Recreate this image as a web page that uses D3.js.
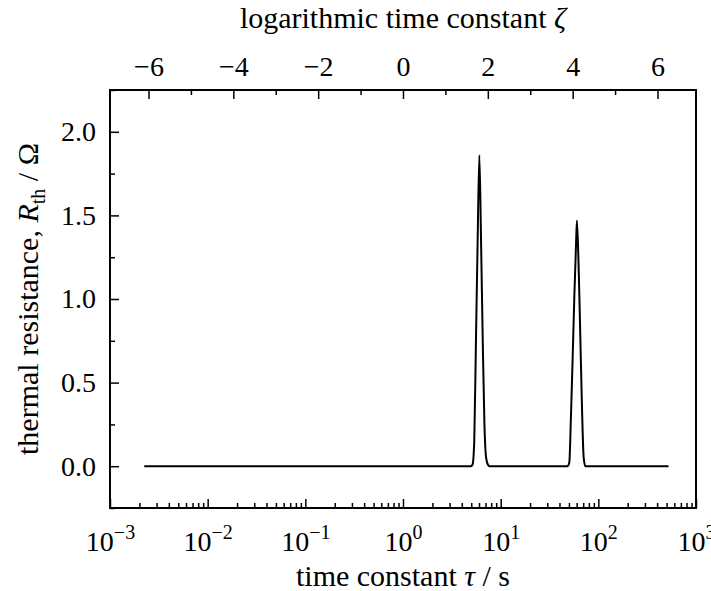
<!DOCTYPE html>
<meta charset="utf-8">
<style>
body { margin: 0; background: #fff; }
svg text { font-family: "Liberation Serif", "DejaVu Serif", "Times New Roman", serif !important; fill: #000; }
.tick text { font-size: 28px; }
.title { font-size: 30px; }
.frame { fill: none; stroke: #000; stroke-width: 2px; }
.curve { fill: none; stroke: #000; stroke-width: 2px; stroke-linejoin: round; }
</style>
<svg width="711" height="591"></svg>
<script src="https://cdn.jsdelivr.net/npm/d3@7"></script>
<script>

// logarithmic time constant zeta = ln(tau)
var zeta = [-6.10,
  1.60, 1.64, 1.68, 1.72, 1.76, 1.80, 1.84, 1.88, 1.92, 1.96, 2.00, 2.04,
  3.88, 3.92, 3.96, 4.00, 4.04, 4.08, 4.10, 4.14, 4.18, 4.22, 4.26, 4.30,
  6.26];
var rth = [0,
  0, 0.01, 0.15, 0.75, 1.35, 1.86, 1.35, 0.75, 0.25, 0.05, 0.01, 0,
  0, 0.02, 0.30, 0.65, 1.02, 1.33, 1.47, 1.20, 0.78, 0.35, 0.05, 0,
  0];

var decades = [-3, -2, -1, 0, 1, 2, 3];
var zetaTicks = [-6, -4, -2, 0, 2, 4, 6];
var yTicks = [0, 0.5, 1.0, 1.5, 2.0];

var serif = "'Liberation Serif', 'DejaVu Serif', serif";

var svg = d3.select("svg"),
    pl = 110, pr = 696, pt = 90, pb = 508;

var x = d3.scaleLog().domain([1e-3, 1e3]).range([pl, pr]);
var y = d3.scaleLinear().domain([-0.25, 2.25]).range([pb, pt]);

var points = zeta.map(function(z, i) { return [Math.exp(z), rth[i]]; });

// minor ticks
var minorX = [];
decades.slice(0, -1).forEach(function(d) {
  for (var k = 2; k < 10; k++) minorX.push(k * Math.pow(10, d));
});
var minorZ = [-5, -3, -1, 1, 3, 5];
var minorY = [-0.25, 0.25, 0.75, 1.25, 1.75, 2.25];

function noDomain(g) {
  g.attr("font-family", serif);
  g.select(".domain").remove();
  g.selectAll("line").attr("stroke-width", 1.5);
}

// bottom axis
var xAxis = d3.axisBottom(x)
    .tickValues(decades.map(function(d) { return Math.pow(10, d); }))
    .tickSizeInner(-9).tickSizeOuter(0)
    .tickFormat("");
var gx = svg.append("g").attr("transform", "translate(0," + pb + ")").call(xAxis).call(noDomain);
gx.selectAll(".tick text").remove();
gx.selectAll(".tick").data(decades).append("text")
    .attr("y", 43).attr("text-anchor", "middle")
    .each(function(d) {
      var t = d3.select(this);
      t.append("tspan").text("10");
      t.append("tspan").attr("dy", -12).attr("font-size", "20px")
        .text(d < 0 ? "\u2212" + (-d) : d);
    });
svg.append("g").attr("transform", "translate(0," + pb + ")")
    .call(d3.axisBottom(x).tickValues(minorX).tickSizeInner(-5).tickSizeOuter(0).tickFormat(""))
    .call(noDomain);

// top axis, zeta = ln(tau)
var xz = d3.scaleLinear().domain([Math.log(1e-3), Math.log(1e3)]).range([pl, pr]);
svg.append("g").attr("transform", "translate(0," + pt + ")")
    .call(d3.axisTop(xz).tickValues(zetaTicks).tickSizeInner(-9).tickSizeOuter(0).tickPadding(14)
      .tickFormat(function(d) { return d < 0 ? "\u2212" + (-d) : d; }))
    .call(noDomain);
svg.append("g").attr("transform", "translate(0," + pt + ")")
    .call(d3.axisTop(xz).tickValues(minorZ).tickSizeInner(-5).tickSizeOuter(0).tickFormat(""))
    .call(noDomain);

// left axis
svg.append("g").attr("transform", "translate(" + pl + ",0)")
    .call(d3.axisLeft(y).tickValues(yTicks).tickSizeInner(-9).tickSizeOuter(0).tickPadding(14)
      .tickFormat(d3.format(".1f")))
    .call(noDomain);
svg.append("g").attr("transform", "translate(" + pl + ",0)")
    .call(d3.axisLeft(y).tickValues(minorY).tickSizeInner(-5).tickSizeOuter(0).tickFormat(""))
    .call(noDomain);

svg.selectAll(".tick text").attr("fill", "#000");

// curve
var line = d3.line()
    .curve(d3.curveMonotoneX)
    .x(function(d) { return x(d[0]); })
    .y(function(d) { return y(d[1]); });
svg.append("path").datum(points).attr("class", "curve").attr("d", line);

// frame
svg.append("rect").attr("class", "frame")
    .attr("x", pl).attr("y", pt)
    .attr("width", pr - pl).attr("height", pb - pt);

// titles
svg.append("text").attr("class", "title").attr("font-family", serif)
    .attr("x", (pl + pr) / 2).attr("y", 28).attr("text-anchor", "middle")
    .html("logarithmic time constant <tspan font-style='italic'>\u03b6</tspan>");

svg.append("text").attr("class", "title").attr("font-family", serif)
    .attr("x", (pl + pr) / 2).attr("y", 586).attr("text-anchor", "middle")
    .html("time constant <tspan font-style='italic'>\u03c4</tspan> / s");

svg.append("text").attr("class", "title").attr("font-family", serif)
    .attr("transform", "translate(38," + ((pt + pb) / 2) + ") rotate(-90)")
    .attr("text-anchor", "middle")
    .html("thermal resistance, <tspan font-style='italic'>R</tspan><tspan dy='7' font-size='20px'>th</tspan><tspan dy='-7'> / \u03a9</tspan>");

</script>
